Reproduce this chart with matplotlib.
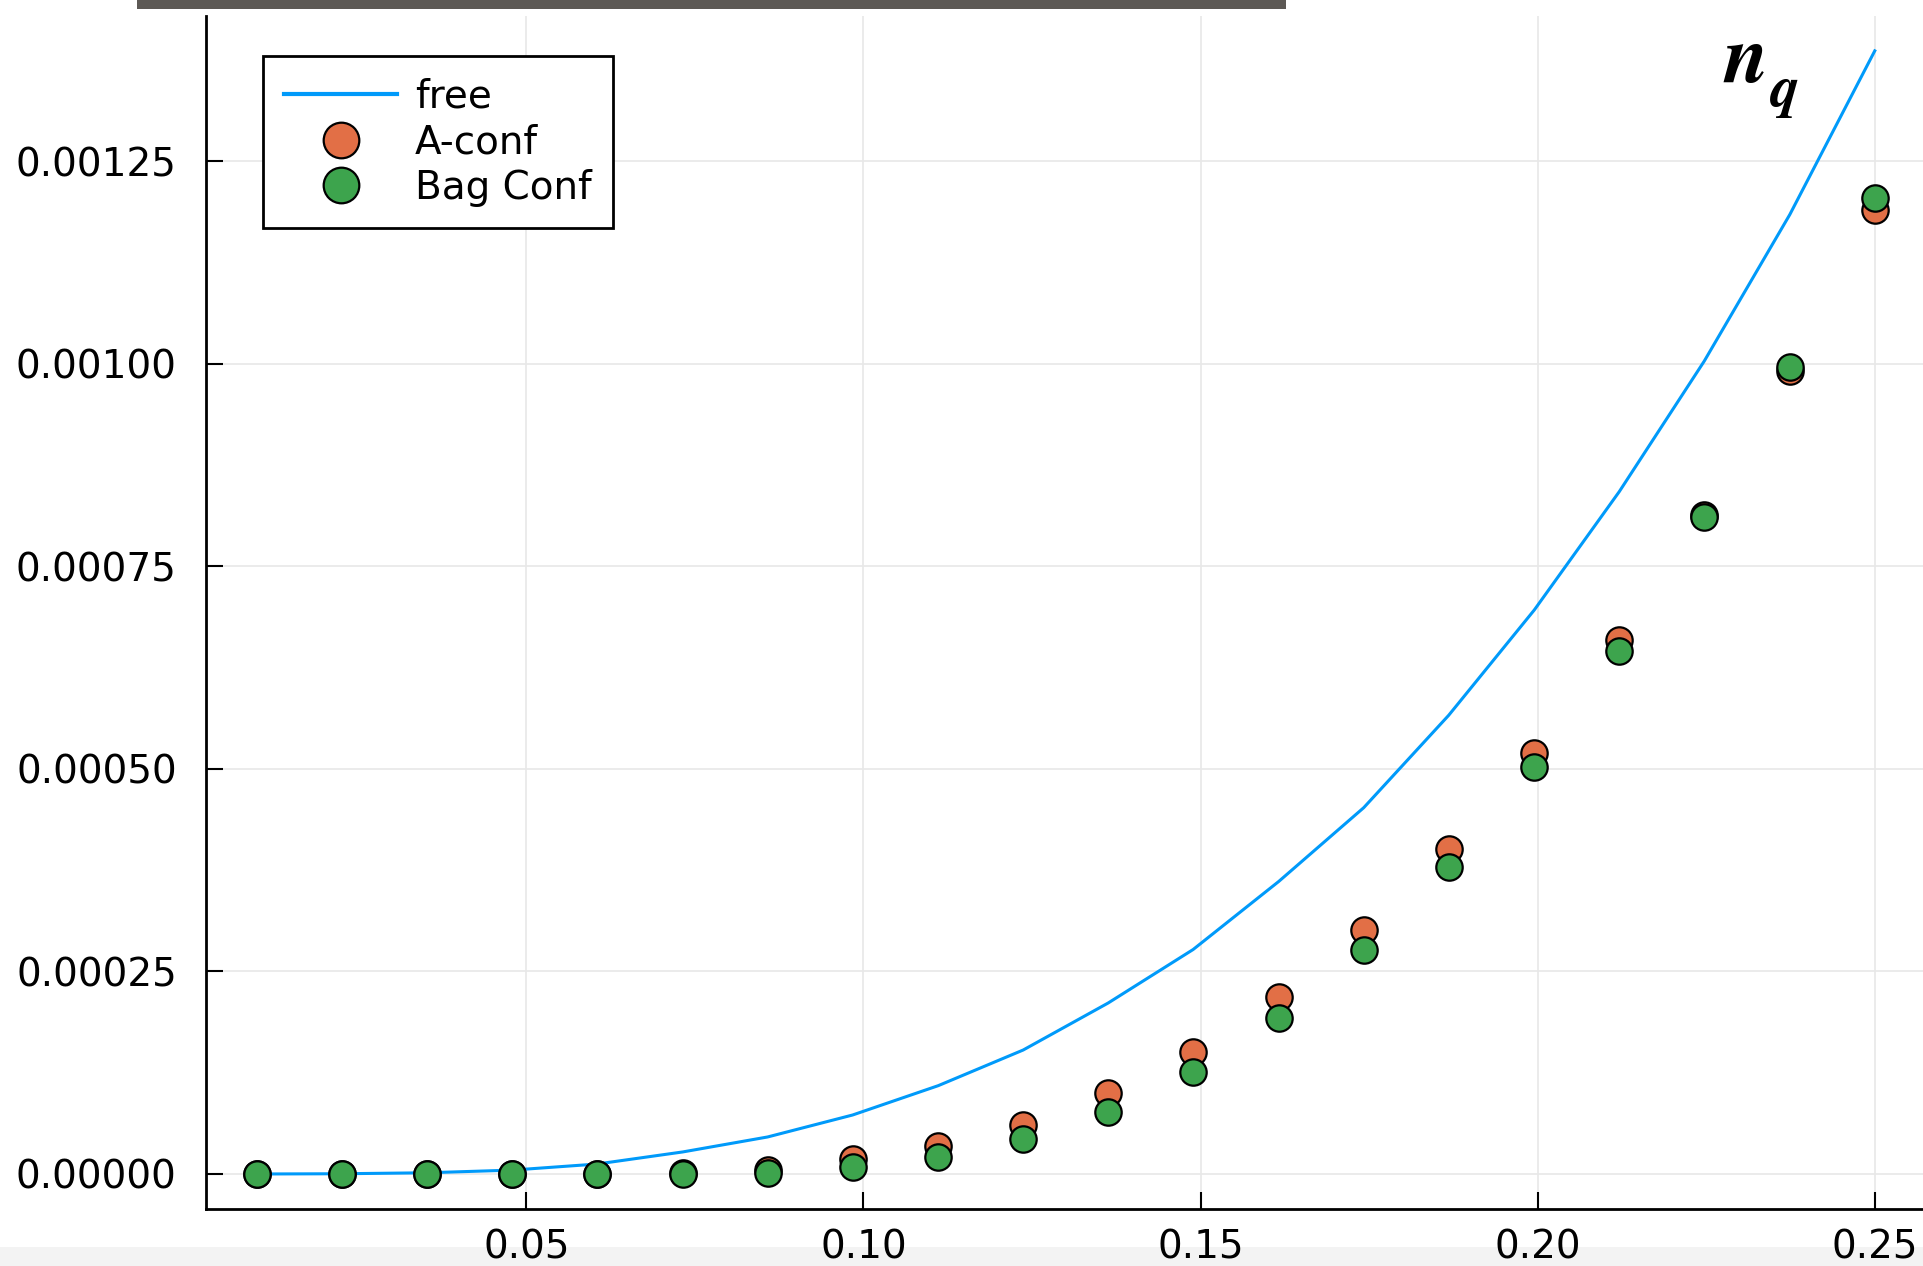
import numpy as np
import matplotlib
matplotlib.use("Agg")
import matplotlib.pyplot as plt
from matplotlib.patches import Rectangle

# values
x_pts = [0.0100, 0.0226, 0.0353, 0.0479, 0.0605, 0.0732, 0.0858, 0.0984, 0.1111, 0.1237,
         0.1363, 0.1489, 0.1616, 0.1742, 0.1868, 0.1995, 0.2121, 0.2247, 0.2374, 0.2500]
free = [0.0, 0.0000003, 0.0000015, 0.0000048, 0.0000123, 0.0000272, 0.0000457, 0.0000728,
        0.000109, 0.000153, 0.000211, 0.000277, 0.000361, 0.000452, 0.000566, 0.000696,
        0.000842, 0.001003, 0.001184, 0.001386]
a_conf = [0.0, 0.0, 0.0, 0.0000005, 0.0, 0.000001, 0.0000045, 0.000018,
          0.000035, 0.0000605, 0.0000996, 0.000151, 0.000219, 0.000301, 0.000401, 0.000519,
          0.000659, 0.000813, 0.000991, 0.001189]
bag_conf = [0.0, 0.0, 0.0, 0.0, 0.0, 0.0, 0.000001, 0.0000082,
            0.000021, 0.0000428, 0.0000769, 0.000126, 0.000192, 0.000276, 0.000379, 0.000502,
            0.000646, 0.000811, 0.000996, 0.001204]

xticks = [0.05, 0.10, 0.15, 0.20, 0.25]
yticks = [0.0, 0.00025, 0.00050, 0.00075, 0.00100, 0.00125]

plt.rcParams['font.family'] = ['DejaVu Sans']
plt.rcParams['mathtext.fontset'] = 'stix'

W, H = 1924, 1266
fig = plt.figure(figsize=(W / 100, H / 100), dpi=100)
fig.patch.set_facecolor('white')

# screenshot artefacts: dark strip on top, light band at the bottom
fig.patches.append(Rectangle((137 / W, 1 - 9 / H), (1286 - 137) / W, 9 / H,
                             transform=fig.transFigure, facecolor='#5d5955',
                             edgecolor='none', zorder=-1))
fig.patches.append(Rectangle((0, 0), 1, (H - 1247) / H, transform=fig.transFigure,
                             facecolor='#f3f3f3', edgecolor='none', zorder=-1))

ax = fig.add_axes([206 / W, 1 - 1209 / H, 1718 / W, 1193 / H])
ax.patch.set_alpha(0)

ax.plot(x_pts, free, color='#009AFA', lw=2.2, label='free', zorder=3)
ax.plot(x_pts, a_conf, ls='none', marker='o', ms=19, mfc='#E26F46', mec='black',
        mew=1.6, label='A-conf', zorder=4)
ax.plot(x_pts, bag_conf, ls='none', marker='o', ms=19, mfc='#3DA44D', mec='black',
        mew=1.6, label='Bag Conf', zorder=5)

ax.set_xlim(0.0025, 0.2573)
ax.set_ylim(-0.0000432, 0.001429)
ax.set_xticks(xticks)
ax.set_xticklabels([f"{v:.2f}" for v in xticks])
ax.set_yticks(yticks)
ax.set_yticklabels([f"{v:.5f}" for v in yticks])

ax.grid(True, color='#e8e8e8', lw=1.2, zorder=0)
ax.set_axisbelow(True)
for s in ['top', 'right']:
    ax.spines[s].set_visible(False)
for s in ['left', 'bottom']:
    ax.spines[s].set_linewidth(2.0)
ax.tick_params(axis='both', direction='in', length=12, width=1.5, labelsize=28,
               colors='black')
ax.tick_params(axis='y', pad=21)
ax.tick_params(axis='x', pad=14)

leg = ax.legend(loc='upper left', bbox_to_anchor=(0.0332, 0.9665), borderaxespad=0,
                fontsize=28, frameon=True, fancybox=False, edgecolor='black',
                handlelength=2.9, handletextpad=0.45, borderpad=0.55,
                labelspacing=0.2, numpoints=1, markerscale=1.35)
leg.get_frame().set_linewidth(2.0)
leg.get_frame().set_alpha(1)
leg.get_lines()[0].set_linewidth(3.0)

fig.text(1723 / W, 1 - 82 / H, r'$\boldsymbol{n}$', fontsize=58,
         ha='left', va='baseline')
fig.text(1769 / W, 1 - 106 / H, r'$\boldsymbol{q}$', fontsize=42,
         ha='left', va='baseline')

fig.savefig('out.png', dpi=100)
